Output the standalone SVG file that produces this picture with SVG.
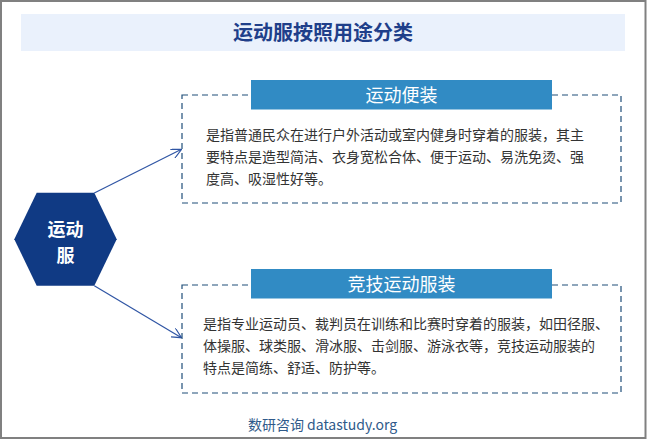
<svg xmlns="http://www.w3.org/2000/svg" width="647" height="440" viewBox="0 0 647 440">
<defs>
<style>
.cjk{font-family:"Noto Sans CJK SC","Noto Sans",sans-serif}
.box{fill:none;stroke:#1F4E79;stroke-width:1.2;stroke-dasharray:6,4}
.hdr{fill:#318BC4}
.hdrt{fill:#fff;font-size:18px;text-anchor:middle}
.body{fill:#333;font-size:14px}
.conn{stroke:#2F55A4;stroke-width:1.2;fill:none}
</style>
<marker id="arr" viewBox="0 0 10 10" refX="10" refY="5" markerWidth="10" markerHeight="10" markerUnits="userSpaceOnUse" orient="auto">
<path d="M0,0 L10,5 L0,10" fill="none" stroke="#2F55A4" stroke-width="1.2"/>
</marker>
</defs>
<rect x="0" y="0" width="647" height="440" fill="#fff"/>
<rect x="1" y="1" width="644.5" height="437" fill="none" stroke="#808080" stroke-width="2"/>
<g id="title">
<rect x="21" y="14" width="604" height="37" fill="#EAF1FC"/>
<text x="323" y="40" class="cjk" font-size="20" font-weight="bold" fill="#1F3F8A" text-anchor="middle">运动服按照用途分类</text>
</g>
<g id="connectors">
<line class="conn" x1="94.3" y1="193" x2="181.5" y2="149.3" marker-end="url(#arr)"/>
<line class="conn" x1="94.3" y1="285.7" x2="181.5" y2="337.7" marker-end="url(#arr)"/>
</g>
<g id="hub">
<polygon points="36.7,192.7 94.3,192.7 116.7,239.2 94.3,285.7 36.7,285.7 14.3,239.2" fill="#103A84"/>
<text x="65.5" y="235.5" class="cjk" font-size="18" font-weight="bold" fill="#fff" text-anchor="middle">运动</text>
<text x="65.5" y="262" class="cjk" font-size="18" font-weight="bold" fill="#fff" text-anchor="middle">服</text>
</g>
<g id="casual">
<rect class="box" x="182" y="95" width="439" height="108"/>
<rect class="hdr" x="251" y="80" width="301" height="29.5"/>
<text class="cjk hdrt" x="401.5" y="101.5">运动便装</text>
<text class="cjk body" x="206" y="140">是指普通民众在进行户外活动或室内健身时穿着的服装，其主</text>
<text class="cjk body" x="206" y="162">要特点是造型简洁、衣身宽松合体、便于运动、易洗免烫、强</text>
<text class="cjk body" x="206" y="184">度高、吸湿性好等。</text>
</g>
<g id="competitive">
<rect class="box" x="182" y="285" width="439" height="108"/>
<rect class="hdr" x="251" y="269" width="301" height="29.5"/>
<text class="cjk hdrt" x="401.5" y="291">竞技运动服装</text>
<text class="cjk body" x="203" y="328.5">是指专业运动员、裁判员在训练和比赛时穿着的服装，如田径服、</text>
<text class="cjk body" x="203" y="350.5">体操服、球类服、滑冰服、击剑服、游泳衣等，竞技运动服装的</text>
<text class="cjk body" x="203" y="372.5">特点是简练、舒适、防护等。</text>
</g>
<g id="footer">
<text x="322.5" y="430" class="cjk" font-size="14" fill="#2F5A8A" text-anchor="middle">数研咨询 datastudy.org</text>
</g>
</svg>
